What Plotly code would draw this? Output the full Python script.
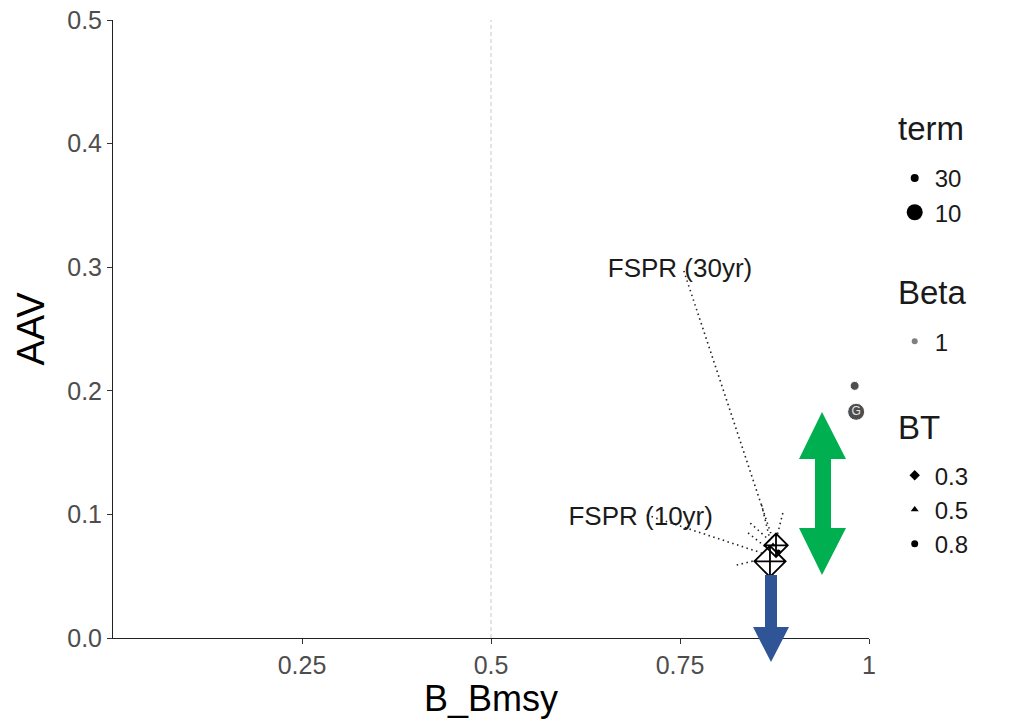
import plotly.graph_objects as go

# ---- data ----
fspr_labels = ["FSPR (10yr)", "FSPR (30yr)"]
fspr_term = [10, 30]
fspr_bbmsy = [0.869, 0.877]
fspr_aav = [0.062, 0.075]

bt_small_x = [0.873, 0.880]
bt_small_y = [0.0752, 0.0696]
bt_small_sym = ["triangle-up", "circle"]

grey_x = [0.981, 0.983]
grey_y = [0.204, 0.183]
grey_text = ["", "G"]

label_x = [0.698, 0.750]
label_y = [0.0963, 0.297]

# repel segments (label -> point)
seg_x0 = [0.706, 0.755, 0.858, 0.886, 0.843, 0.840, 0.825]
seg_y0 = [0.0995, 0.297, 0.1076, 0.1011, 0.093, 0.085, 0.059]
seg_x1 = [0.858, 0.873, 0.869, 0.878, 0.872, 0.865, 0.852]
seg_y1 = [0.0688, 0.0793, 0.0793, 0.0817, 0.0769, 0.0728, 0.0631]

x_ticks = [0.25, 0.5, 0.75, 1]
x_ticktext = ["0.25", "0.5", "0.75", "1"]
y_ticks = [0.0, 0.1, 0.2, 0.3, 0.4, 0.5]

term_levels = ["30", "10"]
beta_levels = ["1"]
bt_levels = ["0.3", "0.5", "0.8"]

FONT = "Liberation Sans, Arial, sans-serif"
W, H = 1011, 719
ML, MR, MT, MB = 113, 142, 20, 81
PW, PH = W - ML - MR, H - MT - MB

fig = go.Figure()

# dotted repel segments
for x0, y0, x1, y1 in zip(seg_x0, seg_y0, seg_x1, seg_y1):
    fig.add_trace(go.Scatter(x=[x0, x1], y=[y0, y1], mode="lines",
                             line=dict(color="#222222", width=1.6, dash="1.5px,3.5px"),
                             showlegend=False, hoverinfo="skip"))

# main points
fig.add_trace(go.Scatter(
    x=fspr_bbmsy, y=fspr_aav, mode="markers",
    marker=dict(symbol="diamond-cross-open", size=[24 if t == 10 else 18 for t in fspr_term],
                color="black", opacity=1, line=dict(color="black", width=1.8)),
    showlegend=False))
fig.add_trace(go.Scatter(
    x=bt_small_x, y=bt_small_y, mode="markers",
    marker=dict(symbol=bt_small_sym, size=5, color="black"),
    showlegend=False))

# grey points
fig.add_trace(go.Scatter(
    x=grey_x, y=grey_y, mode="markers+text", text=grey_text,
    textposition="middle center",
    textfont=dict(family=FONT, size=12, color="#e6e6e6"),
    marker=dict(symbol="circle", size=[9, 17], color="#4d4d4d", opacity=1),
    showlegend=False))

# labels
fig.add_trace(go.Scatter(
    x=label_x, y=label_y, mode="text", text=fspr_labels,
    textposition="middle center",
    textfont=dict(family=FONT, size=26, color="#1a1a1a"),
    showlegend=False, hoverinfo="skip"))

# legends
term_sizes = {"30": 8, "10": 16}
for lv in term_levels:
    fig.add_trace(go.Scatter(x=[None], y=[None], mode="markers", name=lv,
                             marker=dict(symbol="circle", size=term_sizes[lv], color="black"),
                             legend="legend"))
for lv in beta_levels:
    fig.add_trace(go.Scatter(x=[None], y=[None], mode="markers", name=lv,
                             marker=dict(symbol="circle", size=6, color="#7f7f7f"),
                             legend="legend2"))
bt_sym = {"0.3": "diamond", "0.5": "triangle-up", "0.8": "circle"}
bt_size = {"0.3": 8, "0.5": 7, "0.8": 7}
for lv in bt_levels:
    fig.add_trace(go.Scatter(x=[None], y=[None], mode="markers", name=lv,
                             marker=dict(symbol=bt_sym[lv], size=bt_size[lv], color="black"),
                             legend="legend3"))

fig.add_vline(x=0.5, line=dict(color="#c8c8c8", width=1, dash="4px,3px"))


def px(xp, yp):
    return (xp - ML) / PW, (H - MB - yp) / PH


def poly(points):
    pts = [px(a, b) for a, b in points]
    return "M " + " L ".join(f"{a:.5f},{b:.5f}" for a, b in pts) + " Z"


green = [(822, 412), (846, 459), (831, 459), (831, 528), (846, 528), (822, 575),
         (799, 528), (815, 528), (815, 459), (799, 459)]
blue = [(765, 575), (777, 575), (777, 627), (789, 627), (771, 662), (753, 627), (765, 627)]
fig.add_shape(type="path", path=poly(green), xref="paper", yref="paper",
              fillcolor="#00B050", line=dict(width=0))
fig.add_shape(type="path", path=poly(blue), xref="paper", yref="paper",
              fillcolor="#2F5597", line=dict(width=0))

# legend titles
for title, ypix in [("term", 128), ("Beta", 292), ("BT", 428)]:
    xp, yp = px(896, ypix)
    fig.add_annotation(x=xp, y=yp, xref="paper", yref="paper", text=title,
                       showarrow=False, xanchor="left", yanchor="middle",
                       font=dict(family=FONT, size=33, color="#1a1a1a"))

leg_common = dict(xanchor="left", yanchor="top", bgcolor="rgba(0,0,0,0)",
                  itemsizing="trace", font=dict(family=FONT, size=24, color="#1a1a1a"))
fig.update_layout(
    width=W, height=H,
    margin=dict(l=ML, r=MR, t=MT, b=MB),
    paper_bgcolor="white", plot_bgcolor="white",
    font=dict(family=FONT),
    xaxis=dict(range=[0, 1], tickvals=x_ticks, ticktext=x_ticktext, showgrid=False,
               zeroline=False, showline=True, linecolor="#222", linewidth=1,
               ticks="outside", ticklen=5, tickcolor="#333", automargin=False,
               tickfont=dict(family=FONT, size=25, color="#4d4d4d"),
               title=dict(text="B_Bmsy", font=dict(family=FONT, size=36, color="black"), standoff=9)),
    yaxis=dict(range=[0, 0.5], tickvals=y_ticks, tickformat=".1f", showgrid=False,
               zeroline=False, showline=True, linecolor="#222", linewidth=1,
               ticks="outside", ticklen=5, tickcolor="#333", automargin=False,
               tickfont=dict(family=FONT, size=25, color="#4d4d4d"),
               title=dict(text="AAV", font=dict(family=FONT, size=38, color="black"), standoff=10)),
    legend=dict(x=1.034, y=0.780, **leg_common),
    legend2=dict(x=1.034, y=0.516, **leg_common),
    legend3=dict(x=1.034, y=0.299, **leg_common),
)

fig.write_html("out.html")
